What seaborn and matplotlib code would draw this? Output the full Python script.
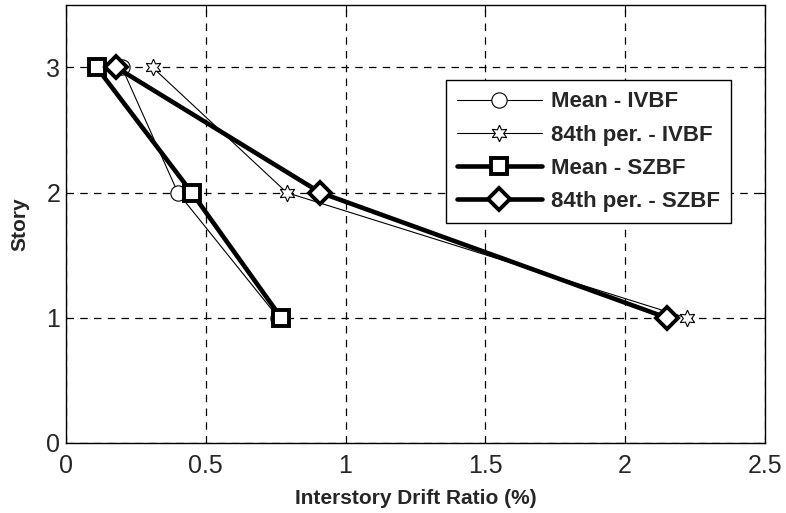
import matplotlib
matplotlib.use('Agg')
import matplotlib.pyplot as plt
import numpy as np
import pandas as pd
import seaborn as sns

# story levels
story = [1, 2, 3]

# interstory drift ratio (%) per series
mean_ivbf = [0.76, 0.40, 0.20]
p84_ivbf = [2.22, 0.79, 0.31]
mean_szbf = [0.77, 0.45, 0.11]
p84_szbf = [2.15, 0.91, 0.18]

labels = ['Mean - IVBF', '84th per. - IVBF', 'Mean - SZBF', '84th per. - SZBF']

sns.set_style("white")
plt.rcParams['font.family'] = ['Liberation Sans', 'DejaVu Sans']

fig = plt.figure(figsize=(7.86, 5.13), dpi=100)
ax = fig.add_axes([0.084, 0.1365, 0.889, 0.854])

styles = [
    dict(marker='o', markersize=11, linewidth=0.8, markeredgewidth=0.8),
    dict(marker=(6, 1, 0), markersize=12, linewidth=0.8, markeredgewidth=0.8),
    dict(marker='s', markersize=11.5, linewidth=3.3, markeredgewidth=2.8),
    dict(marker='D', markersize=11, linewidth=3.3, markeredgewidth=2.8),
]
series = [mean_ivbf, p84_ivbf, mean_szbf, p84_szbf]

for vals, lab, st in zip(series, labels, styles):
    df = pd.DataFrame({'drift': vals, 'story': story})
    sns.lineplot(x='drift', y='story', data=df, sort=False, orient='y', ax=ax,
                 color='black', markerfacecolor='white', markeredgecolor='black',
                 label=lab, **st)

ax.set_xlim(0, 2.5)
ax.set_ylim(0, 3.5)
ax.set_xticks([0, 0.5, 1, 1.5, 2, 2.5])
ax.set_xticklabels(['0', '0.5', '1', '1.5', '2', '2.5'])
ax.set_yticks([0, 1, 2, 3])
ax.grid(True, color='black', linestyle=(0, (6, 5)), linewidth=0.9)
ax.tick_params(direction='in', top=True, right=True, labelsize=18, length=5, color='black')
ax.tick_params(axis='x', pad=8)
ax.tick_params(axis='y', pad=4)
for sp in ax.spines.values():
    sp.set_color('black')
    sp.set_linewidth(1)

ax.set_xlabel('Interstory Drift Ratio (%)', fontsize=15, fontweight='bold', labelpad=8)
ax.set_ylabel('Story', fontsize=15, fontweight='bold', labelpad=12)

leg = ax.legend(loc='upper left', bbox_to_anchor=(0.544, 0.828), frameon=True, fancybox=False,
                edgecolor='black', framealpha=1, borderpad=0.5, labelspacing=0.55,
                handlelength=3.8, handletextpad=0.4, borderaxespad=0,
                prop={'weight': 'bold', 'size': 16})
leg.get_frame().set_linewidth(1)

plt.savefig('out.png', dpi=100)
